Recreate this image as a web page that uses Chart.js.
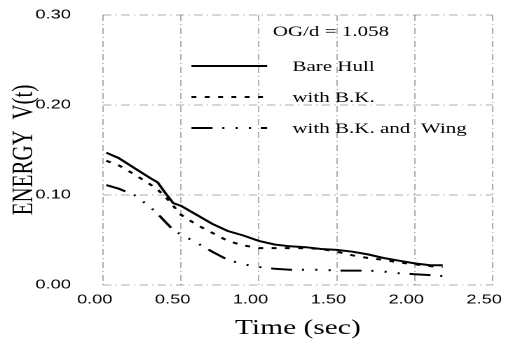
<!DOCTYPE html>
<html>
<head>
<meta charset="utf-8">
<script src="https://cdn.jsdelivr.net/npm/chart.js@4/dist/chart.umd.min.js"></script>
<style>
  html, body { margin: 0; padding: 0; background: #fff; overflow: hidden; }
  /* the scanned figure is stretched horizontally, so the chart is drawn narrow and widened */
  #wrap { width: 366px; height: 341px; transform: scaleX(1.4016); transform-origin: 0 0; }
</style>
</head>
<body>
<div id="wrap"><canvas id="energyChart" width="366" height="341"></canvas></div>
<script>
// time (sec)
const times = [0.02, 0.10, 0.20, 0.30, 0.35, 0.40, 0.45, 0.50, 0.60, 0.70, 0.80, 0.90, 1.00,
               1.10, 1.20, 1.30, 1.40, 1.50, 1.60, 1.70, 1.80, 1.90, 2.00, 2.10, 2.18];
const bareHull = [0.147, 0.141, 0.130, 0.119, 0.114, 0.102, 0.091, 0.088, 0.078, 0.068, 0.060, 0.055, 0.049,
                  0.045, 0.043, 0.042, 0.040, 0.039, 0.037, 0.034, 0.030, 0.027, 0.024, 0.022, 0.022];
const withBK = [0.138, 0.133, 0.123, 0.112, 0.106, 0.098, 0.088, 0.078, 0.067, 0.058, 0.049, 0.044, 0.041,
                0.041, 0.041, 0.041, 0.040, 0.037, 0.033, 0.030, 0.028, 0.025, 0.023, 0.021, 0.020];
const withBKWing = [0.111, 0.107, 0.100, 0.087, 0.079, 0.070, 0.061, 0.056, 0.047, 0.037, 0.028, 0.023, 0.020,
                    0.018, 0.017, 0.017, 0.017, 0.016, 0.016, 0.016, 0.015, 0.013, 0.012, 0.011, 0.010];
const seriesNames = ['Bare Hull', 'with B.K.', 'with B.K. and  Wing'];
const xTickLabels = ['0.00', '0.50', '1.00', '1.50', '2.00', '2.50'];
const yTickLabels = ['0.00', '0.10', '0.20', '0.30'];
const noteText = 'OG/d = 1.058';

const pts = vals => vals.map((v, i) => ({ x: times[i], y: v }));

// legend drawn inside the plot, like the original figure
const insideLegend = {
  id: 'insideLegend',
  afterDatasetsDraw(chart) {
    const { ctx, chartArea: a } = chart;
    ctx.save();
    ctx.fillStyle = '#000';
    ctx.textBaseline = 'middle';
    ctx.font = '15px "Liberation Serif", "Times New Roman", serif';
    ctx.fillText(noteText, a.left + 121, 32);
    chart.data.datasets.forEach((ds, i) => {
      const y = 66 + i * 31;
      ctx.strokeStyle = ds.borderColor;
      ctx.lineWidth = ds.borderWidth;
      ctx.setLineDash(ds.borderDash || []);
      ctx.beginPath();
      ctx.moveTo(a.left + 63, y);
      ctx.lineTo(a.left + 117, y);
      ctx.stroke();
      ctx.fillText(ds.label, a.left + 135, y + 1);
    });
    ctx.restore();
  }
};

const gridStyle = {
  grid: { color: 'rgba(0,0,0,0.32)', lineWidth: 1, drawTicks: false },
  border: { display: false, dash: [6, 3, 1, 3] },
};
const tickFont = { family: '"Liberation Sans", Arial, sans-serif', size: 13 };
const titleFont = { family: '"Liberation Serif", "Times New Roman", serif', size: 21 };

new Chart(document.getElementById('energyChart'), {
  type: 'line',
  data: {
    datasets: [
      { label: seriesNames[0], data: pts(bareHull), borderColor: '#000', borderWidth: 2, borderDash: [] },
      { label: seriesNames[1], data: pts(withBK), borderColor: '#000', borderWidth: 2, borderDash: [3.5, 6] },
      { label: seriesNames[2], data: pts(withBKWing), borderColor: '#000', borderWidth: 2,
        borderDash: [15, 7, 1.5, 8, 1.5, 8, 1.5, 7] },
    ],
  },
  options: {
    responsive: false,
    devicePixelRatio: 2,
    animation: false,
    layout: { padding: { top: 15, right: 0, bottom: 0, left: 0 } },
    elements: { point: { radius: 0 }, line: { tension: 0, fill: false } },
    plugins: { legend: { display: false }, tooltip: { enabled: false } },
    scales: {
      x: {
        type: 'linear', min: 0, max: 2.5,
        ...gridStyle,
        afterFit: s => { s.height = 56; s.paddingLeft = 0; s.paddingRight = 14.6; },
        ticks: {
          stepSize: 0.5, color: '#000', font: tickFont, padding: 7, labelOffset: -6,
          callback: (v, i) => xTickLabels[i],
        },
        title: { display: true, text: 'Time (sec)', color: '#000', font: titleFont, padding: { top: 0, bottom: 0 } },
      },
      y: {
        type: 'linear', min: 0, max: 0.3,
        ...gridStyle,
        afterFit: s => { s.width = 73.6; s.paddingTop = 0; s.paddingBottom = 0; },
        ticks: {
          stepSize: 0.1, color: '#000', font: tickFont, padding: 23,
          callback: (v, i) => yTickLabels[i],
        },
        title: { display: true, text: 'ENERGY  V(t)', color: '#000', font: titleFont, padding: { top: 5, bottom: 0 } },
      },
    },
  },
  plugins: [insideLegend],
});
</script>
</body>
</html>
